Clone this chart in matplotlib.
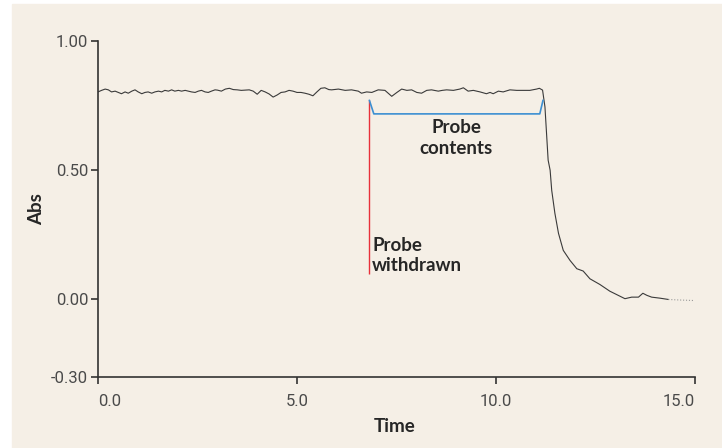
import matplotlib
matplotlib.use("Agg")
import matplotlib.pyplot as plt
from matplotlib.patches import Rectangle
import numpy as np

# absorbance trace
time = [0.00, 0.09, 0.18, 0.26, 0.34, 0.43, 0.51, 0.59, 0.68, 0.76, 0.85, 0.93,
        1.01, 1.10, 1.18, 1.26, 1.35, 1.43, 1.52, 1.60, 1.68, 1.77, 1.85, 1.93,
        2.02, 2.10, 2.19, 2.27, 2.35, 2.44, 2.52, 2.60, 2.69, 2.77, 2.85, 2.94,
        3.00, 3.10, 3.20, 3.30, 3.40, 3.50, 3.60, 3.70, 3.80, 3.90, 4.00, 4.10,
        4.20, 4.30, 4.40, 4.50, 4.60, 4.70, 4.80, 4.90, 5.00, 5.10, 5.20, 5.30,
        5.40, 5.50, 5.60, 5.70, 5.80, 5.87, 6.04, 6.21, 6.37, 6.54, 6.62, 6.75,
        6.88, 7.04, 7.21, 7.38, 7.51, 7.63, 7.76, 7.88, 8.01, 8.13, 8.26, 8.38,
        8.55, 8.65, 8.76, 8.93, 9.09, 9.18, 9.30, 9.43, 9.60, 9.76, 9.85, 9.93,
        10.06, 10.18, 10.35, 10.52, 10.69, 10.85, 11.02, 11.09, 11.17, 11.23,
        11.27, 11.31, 11.36, 11.40, 11.48, 11.57, 11.69, 11.86, 12.03, 12.19,
        12.36, 12.61, 12.86, 13.07, 13.24, 13.41, 13.58, 13.69, 13.79, 13.91,
        14.12, 14.33]
absorb = [0.803, 0.809, 0.814, 0.811, 0.803, 0.806, 0.801, 0.796, 0.803, 0.798, 0.806, 0.811,
          0.803, 0.796, 0.801, 0.803, 0.798, 0.803, 0.806, 0.803, 0.809, 0.806, 0.811, 0.806,
          0.809, 0.806, 0.809, 0.806, 0.803, 0.801, 0.806, 0.809, 0.803, 0.801, 0.806, 0.811,
          0.810, 0.806, 0.814, 0.817, 0.812, 0.811, 0.809, 0.810, 0.811, 0.806, 0.794, 0.809,
          0.803, 0.795, 0.783, 0.791, 0.801, 0.803, 0.809, 0.806, 0.801, 0.801, 0.798, 0.794,
          0.788, 0.803, 0.817, 0.819, 0.812, 0.811, 0.814, 0.809, 0.811, 0.806, 0.798, 0.803,
          0.801, 0.811, 0.809, 0.786, 0.801, 0.814, 0.809, 0.811, 0.801, 0.798, 0.809, 0.811,
          0.806, 0.809, 0.811, 0.809, 0.814, 0.819, 0.806, 0.809, 0.803, 0.796, 0.801, 0.796,
          0.806, 0.803, 0.811, 0.809, 0.809, 0.809, 0.814, 0.817, 0.810, 0.745,
          0.643, 0.539, 0.500, 0.422, 0.333, 0.256, 0.190, 0.151, 0.119, 0.110,
          0.080, 0.058, 0.032, 0.016, 0.003, 0.009, 0.009, 0.024, 0.016, 0.009,
          0.005, 0.000]
# faint tail at the end of the run
tail_time = [14.33, 14.60, 14.95]
tail_abs = [0.000, -0.002, -0.004]

# markers drawn over the trace
withdrawn_t = 6.80
withdrawn_span = [0.10, 0.77]
bracket_t = [6.82, 6.93, 11.10, 11.18]
bracket_abs = [0.77, 0.718, 0.718, 0.77]

xticks = [0.0, 5.0, 10.0, 15.0]
yticks = [-0.30, 0.00, 0.50, 1.00]

bg = "#f5efe6"
label_font = ["Lato", "DejaVu Sans"]
tick_font = ["Roboto", "DejaVu Sans"]
ink = "#262626"

fig = plt.figure(figsize=(7.22, 4.48), dpi=100, facecolor="white")
fig.patches.append(Rectangle((12 / 722, 0), 710 / 722, 444 / 448,
                             transform=fig.transFigure, color=bg, zorder=-1))
ax = fig.add_axes([98 / 722, 1 - 377 / 448, 597 / 722, 336 / 448])
ax.set_facecolor("none")

ax.plot(time, absorb, color="#3a3a3a", lw=0.8)
ax.plot(tail_time, tail_abs, color="#9a9a9a", lw=0.8, ls=":")
ax.vlines(withdrawn_t, withdrawn_span[0], withdrawn_span[1], color="#e8303a", lw=1.0)
ax.plot(bracket_t, bracket_abs, color="#3b8fd2", lw=1.2)

ax.text(6.89, 0.17, "Probe\nwithdrawn", ha="left", va="center", fontsize=13.5,
        fontweight="bold", family=label_font, color=ink, linespacing=1.28)
ax.text(9.0, 0.626, "Probe\ncontents", ha="center", va="center", fontsize=13.5,
        fontweight="bold", family=label_font, color=ink, linespacing=1.28,
        multialignment="center")

ax.set_xlim(0, 15)
ax.set_ylim(-0.30, 1.00)
ax.set_xticks(xticks)
ax.set_xticklabels(["%.1f" % v for v in xticks])
ax.set_yticks(yticks)
ax.set_yticklabels(["%.2f" % v for v in yticks])
for lab in ax.get_xticklabels() + ax.get_yticklabels():
    lab.set_family(tick_font)
    lab.set_fontweight("normal")
    lab.set_fontsize(12)
    lab.set_color("#4a4a4a")
xl = ax.get_xticklabels()
xl[0].set_ha("left")
xl[-1].set_ha("right")

ax.tick_params(axis="both", direction="out", length=5, width=1.2, color="#333333")
ax.tick_params(axis="x", pad=7)
ax.tick_params(axis="y", pad=2)
for side in ["top", "right"]:
    ax.spines[side].set_visible(False)
for side in ["left", "bottom"]:
    ax.spines[side].set_color("#333333")
    ax.spines[side].set_linewidth(1.2)

ax.set_xlabel("Time", fontsize=13.5, fontweight="bold", family=label_font, color=ink)
ax.set_ylabel("Abs", fontsize=13.5, fontweight="bold", family=label_font, color=ink)
ax.xaxis.set_label_coords(0.497, -0.146)
ax.yaxis.set_label_coords(-0.102, 0.5)
ax.xaxis.label.set_va("center")
ax.yaxis.label.set_va("center")

plt.savefig("out.png", dpi=100, facecolor="white")
